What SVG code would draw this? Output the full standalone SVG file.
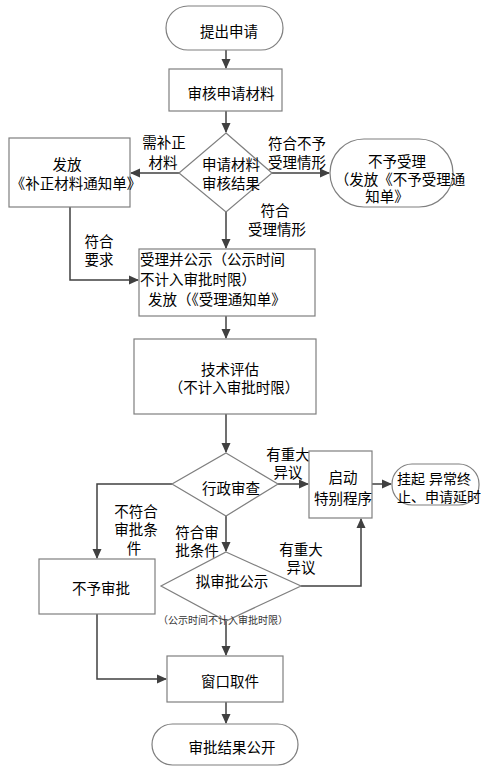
<svg xmlns="http://www.w3.org/2000/svg" width="504" height="771" viewBox="0 0 504 771">
<style>
text{font-family:"Liberation Sans","Noto Sans CJK SC",sans-serif;font-size:14.5px;fill:#000;}
.c{text-anchor:middle;}
.box{fill:#fff;stroke:#7f7f7f;stroke-width:1.2;}
.ln{fill:none;stroke:#404040;stroke-width:1.5;}
.sm{font-size:10px;fill:#333;}
.s14{font-size:14px;}
</style>
<defs>
<marker id="ah" markerWidth="10" markerHeight="10" refX="9" refY="5" orient="auto" markerUnits="userSpaceOnUse">
<path d="M0,0.5 L10,5 L0,9.5 Z" fill="#404040"/>
</marker>
<clipPath id="clipS"><rect x="392" y="462" width="89" height="45"/></clipPath>
</defs>
<rect width="504" height="771" fill="#fff"/>

<g id="connectors">
<path class="ln" d="M226,50 V68" marker-end="url(#ah)"/>
<path class="ln" d="M226,111 V132" marker-end="url(#ah)"/>
<path class="ln" d="M179,173 H131" marker-end="url(#ah)"/>
<path class="ln" d="M272,173 H329" marker-end="url(#ah)"/>
<path class="ln" d="M226,212 V248" marker-end="url(#ah)"/>
<path class="ln" d="M70,207 V280 H138" marker-end="url(#ah)"/>
<path class="ln" d="M226,316 V338" marker-end="url(#ah)"/>
<path class="ln" d="M226,414 V452" marker-end="url(#ah)"/>
<path class="ln" d="M278,484 H308" marker-end="url(#ah)"/>
<path class="ln" d="M372,484 H391" marker-end="url(#ah)"/>
<path class="ln" d="M172,484 H97 V558" marker-end="url(#ah)"/>
<path class="ln" d="M226,516 V551" marker-end="url(#ah)"/>
<path class="ln" d="M301,586 H361 V519" marker-end="url(#ah)"/>
<path class="ln" d="M226,620 V655" marker-end="url(#ah)"/>
<path class="ln" d="M97,614 V679 H166" marker-end="url(#ah)"/>
<path class="ln" d="M226,702 V723" marker-end="url(#ah)"/>
<text x="164" y="148" class="c">需补正</text>
<text x="163" y="168" class="c">材料</text>
<text x="297" y="149" class="c">符合不予</text>
<text x="297" y="168" class="c">受理情形</text>
<text x="275" y="216" class="c">符合</text>
<text x="277" y="235" class="c">受理情形</text>
<text x="99" y="247" class="c">符合</text>
<text x="99" y="265" class="c">要求</text>
<text x="288" y="460" class="c">有重大</text>
<text x="288" y="478" class="c">异议</text>
<text x="136" y="517" class="c">不符合</text>
<text x="136" y="535" class="c">审批条</text>
<text x="134" y="554" class="c">件</text>
<text x="197" y="538" class="c">符合审</text>
<text x="197" y="556" class="c">批条件</text>
<text x="301" y="555" class="c">有重大</text>
<text x="301" y="573" class="c">异议</text>
</g>

<g id="n1">
<rect class="box" x="166" y="6" width="117" height="44" rx="22"/>
<text x="229" y="37" class="c">提出申请</text>
</g>
<g id="n2">
<rect class="box" x="169" y="69" width="113" height="42"/>
<text x="231" y="99" class="c">审核申请材料</text>
</g>
<g id="n3">
<polygon class="box" points="226,133 272,173 226,212 179,173"/>
<text x="231" y="170" class="c">申请材料</text>
<text x="231" y="189" class="c">审核结果</text>
</g>
<g id="n4">
<rect class="box" x="9" y="138" width="121" height="69"/>
<text x="67" y="170" class="c">发放</text>
<text x="76" y="189" class="c">《补正材料通知单》</text>
</g>
<g id="n5">
<rect class="box" x="330" y="139" width="123" height="68" rx="34"/>
<text x="397" y="167" class="c">不予受理</text>
<text x="400" y="185" class="c">（发放《不予受理通</text>
<text x="387" y="202" class="c">知单》</text>
</g>
<g id="n6">
<rect class="box" x="139" y="249" width="176" height="67"/>
<text x="140" y="265">受理并公示（公示时间</text>
<text x="140" y="285">不计入审批时限）</text>
<text x="148" y="305">发放（《受理通知单》</text>
</g>
<g id="n7">
<rect class="box" x="134" y="339" width="182" height="75"/>
<text x="230" y="375" class="c">技术评估</text>
<text x="234" y="393" class="c">（不计入审批时限）</text>
</g>
<g id="n8">
<polygon class="box" points="226,453 278,484 226,516 172,484"/>
<text x="231" y="494" class="c">行政审查</text>
</g>
<g id="n9">
<rect class="box" x="309" y="451" width="63" height="67"/>
<text x="343" y="483" class="c">启动</text>
<text x="343" y="504" class="c">特别程序</text>
</g>
<g id="n10">
<rect class="box" x="392" y="464" width="87" height="41" rx="20"/>
<g clip-path="url(#clipS)">
<text x="397" y="484" class="s14">挂起 异常终</text>
<text x="397" y="502" class="s14">止、申请延时</text>
</g>
</g>
<g id="n11">
<rect class="box" x="39" y="559" width="116" height="55"/>
<text x="101" y="594" class="c">不予审批</text>
</g>
<g id="n12">
<polygon class="box" points="226,552 301,586 226,621 161,586"/>
<text x="232" y="587" class="c">拟审批公示</text>
<text x="223" y="624" class="c sm">（公示时间不计入审批时限）</text>
</g>
<g id="n13">
<rect class="box" x="167" y="656" width="116" height="46"/>
<text x="230" y="687" class="c">窗口取件</text>
</g>
<g id="n14">
<rect class="box" x="152" y="724" width="146" height="41" rx="20.5"/>
<text x="232" y="753" class="c">审批结果公开</text>
</g>
</svg>
